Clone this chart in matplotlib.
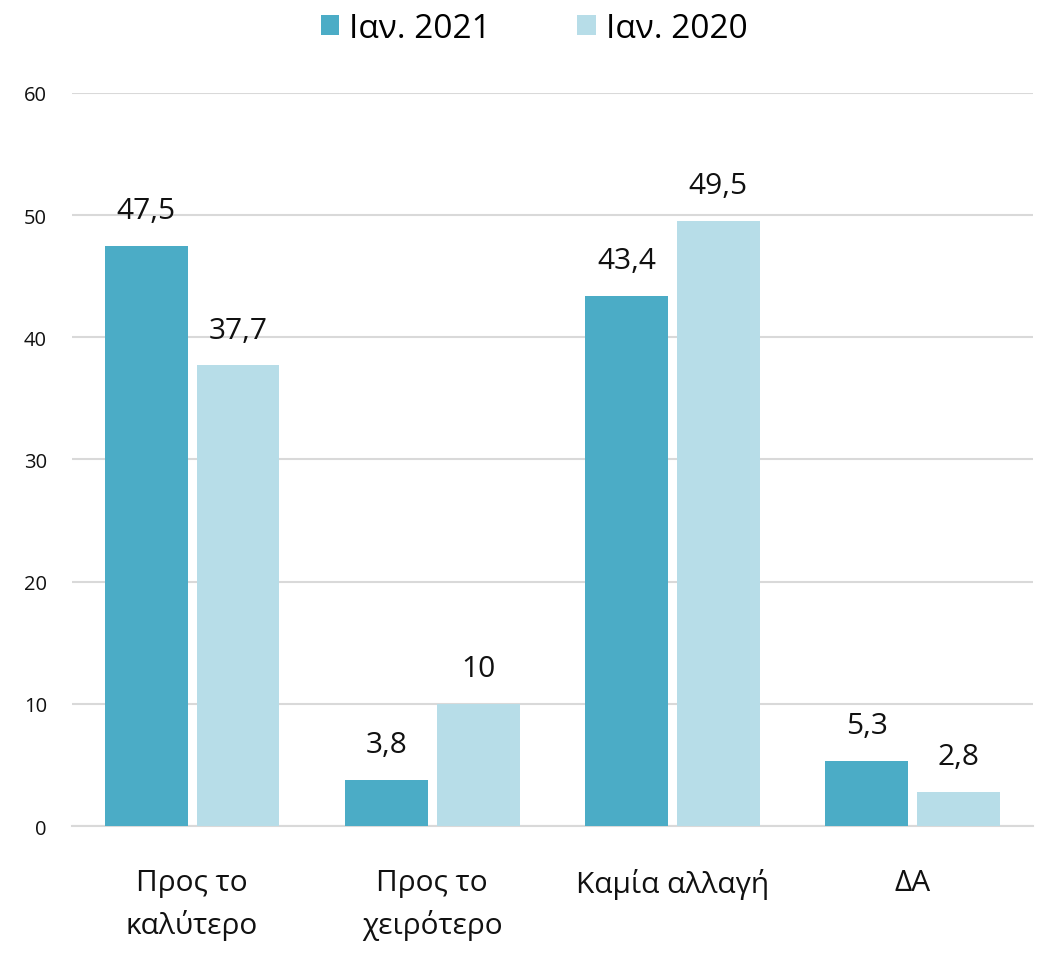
import matplotlib.pyplot as plt
import numpy as np

plt.rcParams['font.family'] = ['Open Sans', 'DejaVu Sans']

categories = ['Προς το\nκαλύτερο', 'Προς το\nχειρότερο', 'Καμία αλλαγή', 'ΔΑ']
series_names = ['Ιαν. 2021', 'Ιαν. 2020']
jan2021 = [47.5, 3.8, 43.4, 5.3]
jan2020 = [37.7, 10, 49.5, 2.8]
colors = ['#4BACC6', '#B7DDE8']

fig = plt.figure(figsize=(10.43, 9.54), dpi=100)
ax = fig.add_axes([0.069, 0.1331, 0.921, 0.7684])

x = np.arange(len(categories))
w = 0.345
gap = 0.0375
b1 = ax.bar(x - (w + gap) / 2, jan2021, w, color=colors[0], label=series_names[0], zorder=3)
b2 = ax.bar(x + (w + gap) / 2, jan2020, w, color=colors[1], label=series_names[1], zorder=3)

for bars in (b1, b2):
    for r in bars:
        v = r.get_height()
        txt = ('%g' % v).replace('.', ',')
        ax.annotate(txt, (r.get_x() + r.get_width() / 2, v), xytext=(0, 15),
                    textcoords='offset points', ha='center', va='bottom', fontsize=21.5,
                    color='#111111')

ax.set_xlim(-0.5, 3.5)
ax.set_ylim(0, 60)
ax.set_yticks(range(0, 61, 10))
ax.yaxis.grid(True, color='#D9D9D9', linewidth=1.5, zorder=0)
for s in ['top', 'right', 'left']:
    ax.spines[s].set_visible(False)
ax.spines['bottom'].set_color('#D9D9D9')
ax.spines['bottom'].set_linewidth(1.5)
ax.tick_params(axis='y', length=0, labelsize=14.5, pad=18, labelcolor='#111111')
ax.tick_params(axis='x', length=0, labelsize=21.5, pad=30, labelcolor='#111111')
ax.set_xticks(x)
ax.set_xticklabels(categories, linespacing=1.5)

leg = fig.legend(loc='upper center', bbox_to_anchor=(0.512, 1.018), ncol=2, frameon=False,
                 fontsize=24, handlelength=0.55, handleheight=0.55, handletextpad=0.3,
                 columnspacing=2.6)

fig.savefig('out.png', dpi=100)
